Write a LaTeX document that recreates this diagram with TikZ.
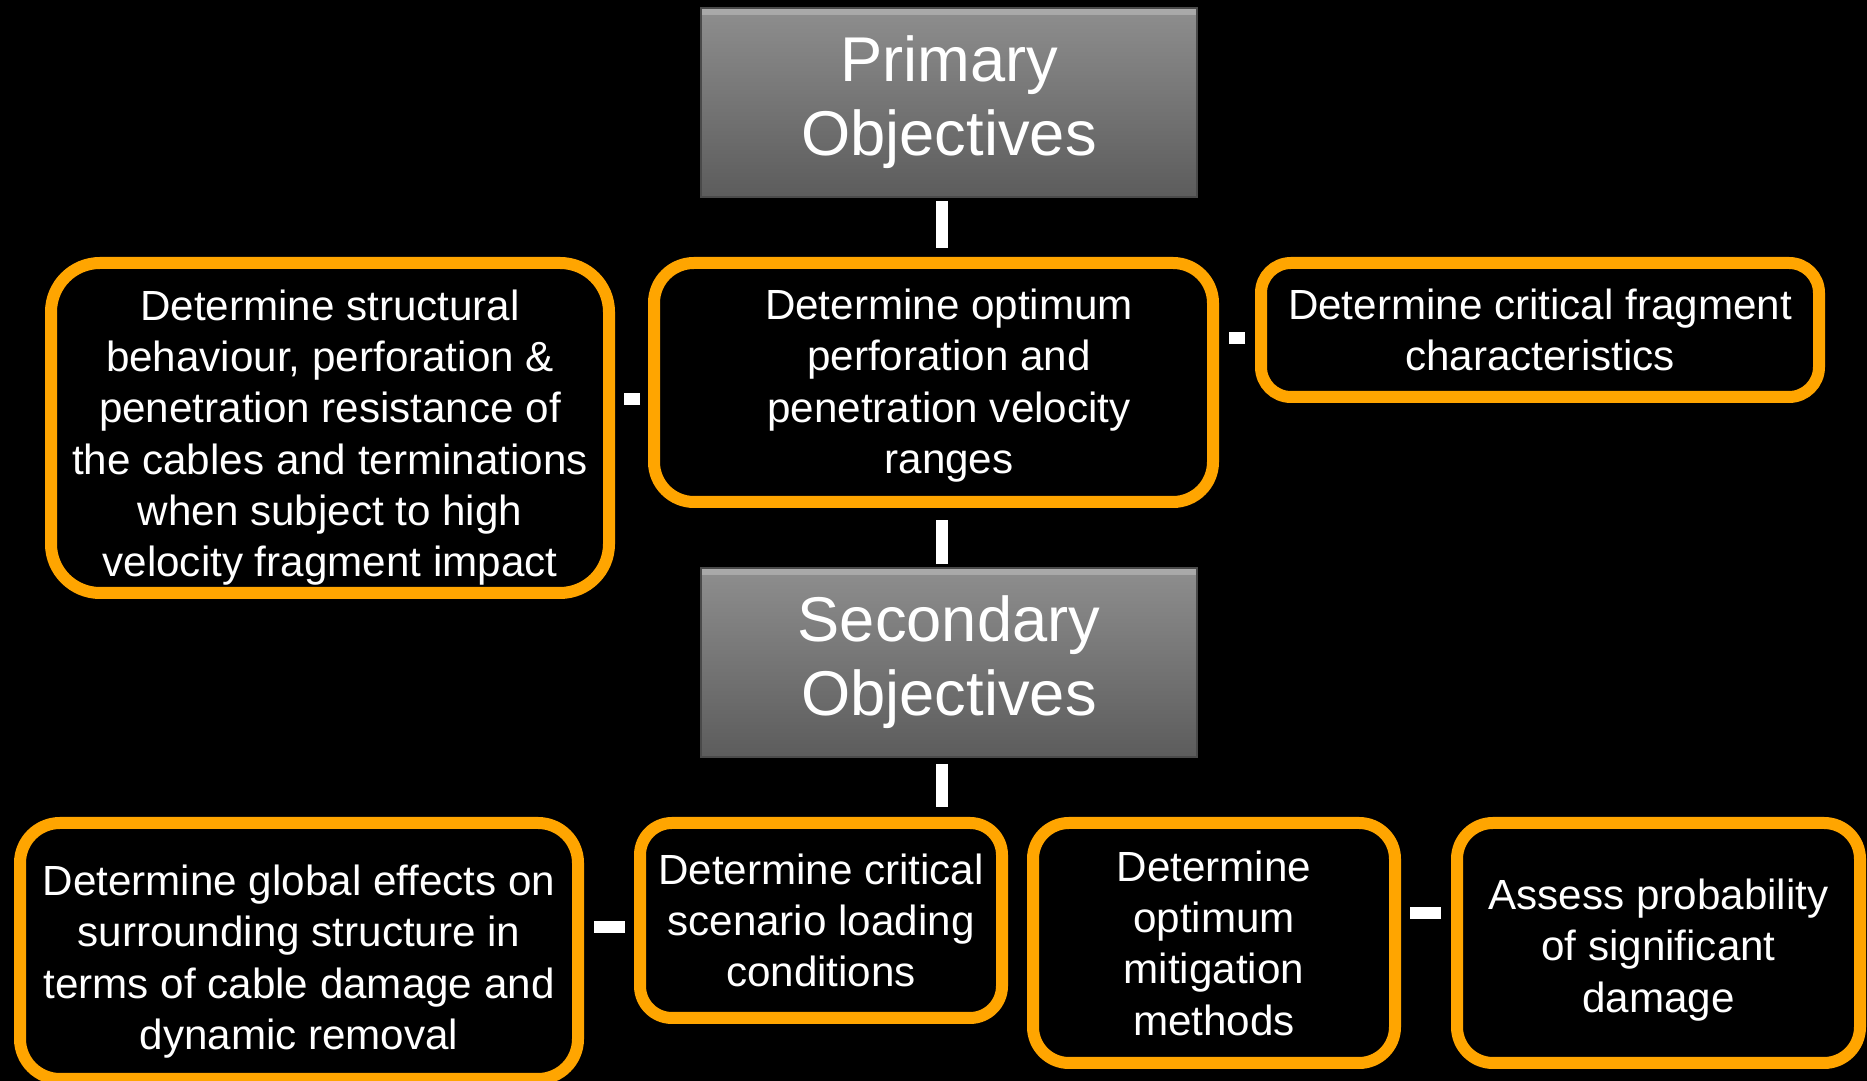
\documentclass[tikz,border=0pt]{standalone}
\usepackage{fontspec}
\setmainfont{Liberation Sans}
\usetikzlibrary{calc}
\definecolor{amber}{HTML}{FFA500}
\definecolor{slatetop}{HTML}{8E8E8E}
\definecolor{slatebot}{HTML}{5C5C5C}
\definecolor{slateedge}{HTML}{4A4A4A}

\begin{document}
\begin{tikzpicture}[
  goal/.style={draw=amber,line width=0.12cm,rounded corners=0.4cm,fill=black,text=white,align=center,inner sep=0pt,font=\fontsize{12}{14.6}\selectfont},
  goaltext/.style={text=white,align=center,inner sep=0pt,font=\fontsize{12}{14.6}\selectfont},
  head/.style={top color=slatetop,bottom color=slatebot,draw=slateedge,line width=0.5pt,text=white,align=center,minimum width=4.96cm,minimum height=1.89cm,inner sep=0pt,font=\fontsize{18}{21}\selectfont,
    path picture={\fill[white,opacity=0.25] (path picture bounding box.north west) rectangle ([yshift=-0.07cm]path picture bounding box.north east);}},
  link/.style={draw=white,line width=0.12cm}
]
\useasboundingbox (0,0) rectangle (18.67,-10.81);
\fill[black] (0,0) rectangle (18.67,-10.81);

% headings
\node[head] (prim) at (9.49,-1.025) {Primary\\Objectives};
\node[head] (sec) at (9.49,-6.625) {Secondary\\Objectives};

% primary objectives
\node[goal,minimum width=5.58cm,minimum height=3.30cm,rounded corners=0.49cm] (l1) at (3.30,-4.28) {};
\node[goaltext] (l1t) at ([yshift=-0.095cm]l1.center) {Determine structural\\behaviour, perforation \&\\penetration resistance of\\the cables and terminations\\when subject to high\\velocity fragment impact};
\node[goal,minimum width=5.59cm,minimum height=2.39cm] (m1) at (9.335,-3.825) {};
\node[goaltext] (m1t) at ([xshift=0.155cm,yshift=-0.03cm]m1.center) {Determine optimum\\perforation and\\penetration velocity\\ranges};
\node[goal,minimum width=5.58cm,minimum height=1.34cm,rounded corners=0.3cm] (r1) at (15.40,-3.30) {Determine critical fragment\\characteristics};

% secondary objectives
\node[goal,minimum width=5.58cm,minimum height=2.56cm] (b1) at (2.99,-9.51) {};
\node[goaltext] (b1t) at ([yshift=-0.105cm]b1.center) {Determine global effects on\\surrounding structure in\\terms of cable damage and\\dynamic removal};
\node[goal,minimum width=3.62cm,minimum height=1.95cm,rounded corners=0.32cm] (b2) at (8.21,-9.205) {Determine critical\\scenario loading\\conditions};
\node[goal,minimum width=3.62cm,minimum height=2.40cm,rounded corners=0.36cm] (b3) at (12.14,-9.43) {Determine\\optimum\\mitigation\\methods};
\node[goal,minimum width=4.03cm,minimum height=2.40cm,rounded corners=0.36cm] (b4) at (16.585,-9.43) {};
\node[goaltext] (b4t) at ([yshift=-0.07cm]b4.center) {Assess probability\\of significant\\damage};

% links
\draw[link,shorten <=0.03cm,shorten >=0.09cm] ([xshift=-0.07cm]prim.south) -- ([xshift=-0.07cm]prim.south |- m1.north);
\draw[link,shorten <=0.03cm,shorten >=0.12cm] ([xshift=-0.07cm]sec.north) -- ([xshift=-0.07cm]sec.north |- m1.south);
\draw[link,shorten <=0.06cm,shorten >=0.10cm] ([xshift=-0.07cm]sec.south) -- ([xshift=-0.07cm]sec.south |- b2.north);
\draw[link,shorten <=0.08cm,shorten >=0.09cm] ([yshift=-0.165cm]m1.west) -- ([yshift=-0.165cm]m1.west -| l1.east);
\draw[link,shorten <=0.10cm,shorten >=0.10cm] ([yshift=-0.085cm]r1.west) -- ([yshift=-0.085cm]r1.west -| m1.east);
\draw[link,shorten <=0.09cm,shorten >=0.10cm] ([yshift=-0.07cm]b2.west) -- ([yshift=-0.07cm]b2.west -| b1.east);
\draw[link,shorten <=0.10cm,shorten >=0.09cm] ([yshift=0.30cm]b4.west) -- ([yshift=0.30cm]b4.west -| b3.east);
\end{tikzpicture}
\end{document}
